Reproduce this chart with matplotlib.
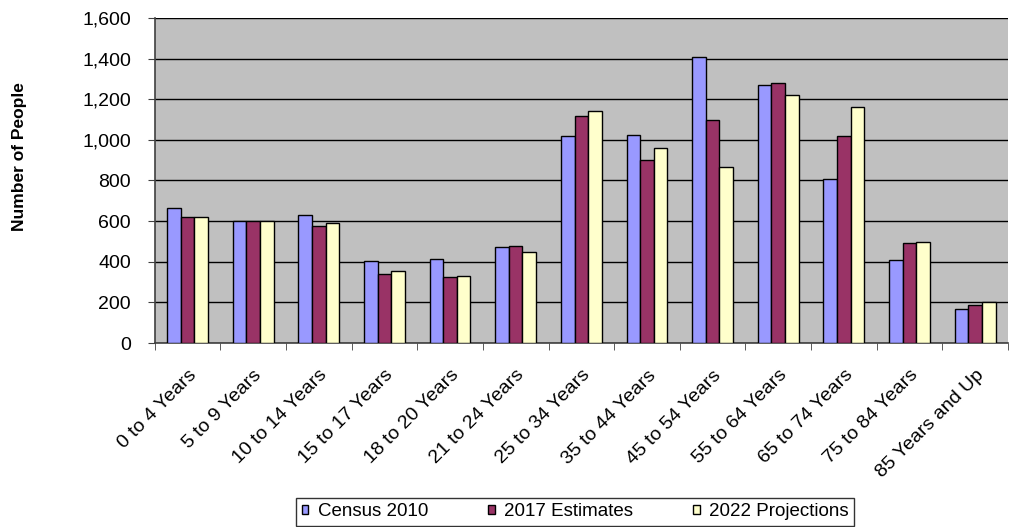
import numpy as np
import matplotlib.pyplot as plt
from matplotlib.ticker import FuncFormatter, FixedLocator

plt.rcParams['font.family'] = ['Liberation Sans', 'DejaVu Sans']

# Data
age_groups = ['0 to 4 Years', '5 to 9 Years', '10 to 14 Years', '15 to 17 Years',
              '18 to 20 Years', '21 to 24 Years', '25 to 34 Years', '35 to 44 Years',
              '45 to 54 Years', '55 to 64 Years', '65 to 74 Years', '75 to 84 Years',
              '85 Years and Up']
census_2010 = [665, 602, 629, 404, 415, 473, 1019, 1026, 1408, 1270, 809, 410, 167]
estimates_2017 = [622, 602, 578, 341, 325, 478, 1119, 903, 1098, 1279, 1021, 491, 187]
projections_2022 = [622, 602, 592, 356, 330, 448, 1141, 958, 865, 1221, 1160, 499, 200]

series = [('Census 2010', census_2010, '#9999FF'),
          ('2017 Estimates', estimates_2017, '#993366'),
          ('2022 Projections', projections_2022, '#FFFFCC')]

fig = plt.figure(figsize=(10.11, 5.27), dpi=100)
ax = fig.add_axes([0.153, 0.349, 0.844, 0.617])
ax.set_facecolor('#C0C0C0')

x = np.arange(len(age_groups))
w = 0.207
for i, (name, vals, col) in enumerate(series):
    ax.bar(x + (i - 1) * w, vals, width=w, color=col, edgecolor='black',
           linewidth=1.0, label=name, zorder=3)

ax.set_xlim(-0.5, len(age_groups) - 0.5)
ax.set_ylim(0, 1600)
ax.set_yticks(range(0, 1601, 200))
ax.yaxis.set_major_formatter(FuncFormatter(lambda v, p: f'{int(v):,}'))
ax.grid(axis='y', color='black', linewidth=1.0, zorder=1)
ax.set_axisbelow(True)

ax.set_xticks(x)
ax.set_xticklabels(age_groups, rotation=45, ha='right', rotation_mode='anchor',
                   fontsize=14)
ax.tick_params(axis='x', length=0, pad=17)
ax.xaxis.set_minor_locator(FixedLocator(np.arange(-0.5, len(age_groups), 1)))
ax.tick_params(axis='x', which='minor', length=5, color='#404040')
ax.tick_params(axis='y', labelsize=14, length=5, pad=12, color='#404040')

for s in ['top', 'right']:
    ax.spines[s].set_visible(False)
for s in ['left', 'bottom']:
    ax.spines[s].set_color('#404040')
    ax.spines[s].set_linewidth(1.2)

fig.text(0.019, 0.702, 'Number of People', rotation=90, ha='center', va='center',
         fontsize=12.5, fontweight='bold')

leg = fig.legend(loc='lower center', bbox_to_anchor=(0.569, 0.0), ncol=3,
                 fontsize=13.5, frameon=True, fancybox=False, edgecolor='black',
                 handlelength=0.35, handleheight=0.35, columnspacing=3.2,
                 handletextpad=0.5, borderpad=0.3, borderaxespad=0.05)
leg.get_frame().set_linewidth(1.0)

fig.savefig('out.png', dpi=100)
